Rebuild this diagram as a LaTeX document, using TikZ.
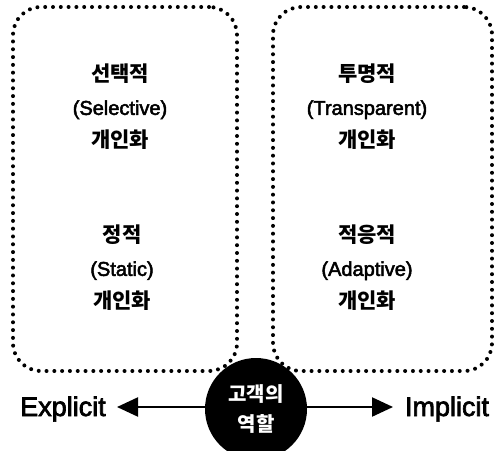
\documentclass[tikz,border=0pt]{standalone}
\usepackage{fontspec}
\setmainfont{Liberation Sans}[FakeBold=2.5]
\newfontfamily\kr{Noto Sans CJK KR}
\newcommand{\krline}[1]{{\kr\bfseries\fontsize{21}{33}\selectfont #1}}
\usetikzlibrary{arrows.meta}
\begin{document}
\begin{tikzpicture}[x=1pt,y=1pt,
  panel/.style={draw, rectangle, rounded corners=28pt, line width=4pt,
    line cap=round, dash pattern=on 0pt off 7.8pt, inner sep=0pt},
  label/.style={align=center, font=\fontsize{20}{33}\selectfont, inner sep=0pt},
  axis/.style={font=\fontsize{27}{30}\selectfont, inner sep=0pt, anchor=base},
  role/.style={circle, fill=black, minimum size=102pt, inner sep=0pt, text=white,
    align=center, font=\kr\bfseries\fontsize{20}{30}\selectfont},
  pointer/.style={line width=2.2pt, -{Triangle[length=21pt,width=19pt]}}
]
\useasboundingbox (0,0) rectangle (494,450);

% two rounded panels
\node[panel, minimum width=224pt, minimum height=364pt] (explicitbox) at (125,261) {};
\node[panel, minimum width=219pt, minimum height=364pt] (implicitbox) at (382.5,261) {};

% panel texts
\node[label] (selective) at (120,343) {\krline{선택적}\\(Selective)\\\krline{개인화}};
\node[label] (static) at (122,182) {\krline{정적}\\(Static)\\\krline{개인화}};
\node[label] (transparent) at (367,343) {\krline{투명적}\\(Transparent)\\\krline{개인화}};
\node[label] (adaptive) at (367,182) {\krline{적응적}\\(Adaptive)\\\krline{개인화}};

% customer role axis
\node[role] (customer) at (256,41) {고객의\\역할};
\node[axis] (explicit) at (63,34) {Explicit};
\node[axis] (implicit) at (447,34) {Implicit};
\coordinate (lefttip) at (117,43);
\coordinate (righttip) at (393,43);
\draw[pointer] (customer.west |- lefttip) -- (lefttip);
\draw[pointer] (customer.east |- righttip) -- (righttip);
\end{tikzpicture}
\end{document}
